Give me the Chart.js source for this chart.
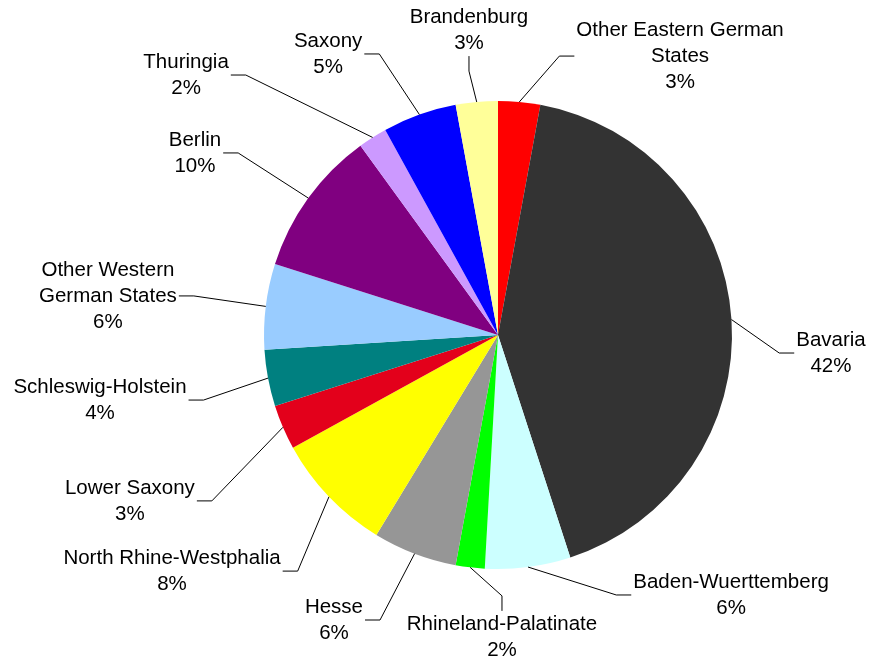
<!DOCTYPE html>
<html>
<head>
<meta charset="utf-8">
<script src="https://cdn.jsdelivr.net/npm/chart.js@4"></script>
<style>
  html, body { margin: 0; padding: 0; background: #fff; }
  #wrap { width: 873px; height: 662px; }
</style>
</head>
<body>
<div id="wrap"><canvas id="pie"></canvas></div>
<script>
// data, clockwise from 12 o'clock
var states = [
    ['Other Eastern German', 'States'], 'Bavaria', 'Baden-Wuerttemberg', 'Rhineland-Palatinate',
    'Hesse', 'North Rhine-Westphalia', 'Lower Saxony', 'Schleswig-Holstein',
    ['Other Western', 'German States'], 'Berlin', 'Thuringia', 'Saxony', 'Brandenburg'
];
var shares = [2.9, 42.1, 5.9, 2.0, 5.8, 8.3, 3.1, 3.9, 5.9, 10.1, 2.0, 5.1, 2.9];

var colors = [
    '#FF0000', '#333333', '#CCFFFF', '#00FF00', '#969696', '#FFFF00', '#E3001B',
    '#008080', '#99CCFF', '#800080', '#CC99FF', '#0000FF', '#FFFF99'
];

// where each label box sits, relative to the pie centre, in units of the radius
var labelOffsets = [
    [0.778, -1.192], [1.423, 0.077], [0.996, 1.111], [0.017, 1.29],
    [-0.701, 1.218], [-1.393, 1.009], [-1.573, 0.709], [-1.701, 0.278],
    [-1.667, -0.167], [-1.295, -0.778], [-1.333, -1.111], [-0.726, -1.201],
    [-0.124, -1.303]
];

var leaderLabels = {
    id: 'leaderLabels',
    afterDatasetsDraw: function(chart) {
        var ctx = chart.ctx;
        var meta = chart.getDatasetMeta(0);
        var data = chart.data.datasets[0].data;
        var total = data.reduce(function(a, b) { return a + b; }, 0);
        var lineH = 26, stub = 15, pad = 2;
        ctx.save();
        ctx.font = '20.5px "Liberation Sans", Arial, sans-serif';
        ctx.fillStyle = '#000';
        ctx.strokeStyle = '#000';
        ctx.lineWidth = 1;
        ctx.textAlign = 'center';
        ctx.textBaseline = 'middle';
        meta.data.forEach(function(arc, i) {
            var p = arc.getProps(['x', 'y', 'startAngle', 'endAngle', 'outerRadius'], true);
            var mid = (p.startAngle + p.endAngle) / 2;
            var sx = p.x + Math.cos(mid) * p.outerRadius;
            var sy = p.y + Math.sin(mid) * p.outerRadius;
            var name = chart.data.labels[i];
            var lines = (Array.isArray(name) ? name.slice() : [name]);
            lines.push(Math.round(data[i] / total * 100) + '%');
            var cx = p.x + labelOffsets[i][0] * p.outerRadius;
            var cy = p.y + labelOffsets[i][1] * p.outerRadius;
            var w = 0;
            lines.forEach(function(t) { w = Math.max(w, ctx.measureText(t).width); });
            var h = lines.length * lineH;
            var left = cx - w / 2 - pad, right = cx + w / 2 + pad;
            var top = cy - h / 2, bottom = cy + h / 2;
            var ex, ey, ax, ay;
            if (sx >= left && sx <= right) {
                ax = cx;
                if (sy > bottom) { ay = bottom; ey = bottom + stub; } else { ay = top; ey = top - stub; }
                ex = cx;
            } else {
                ay = cy; ey = cy;
                if (sx > right) { ax = right; ex = right + stub; } else { ax = left; ex = left - stub; }
            }
            ctx.beginPath();
            ctx.moveTo(sx, sy);
            ctx.lineTo(ex, ey);
            ctx.lineTo(ax, ay);
            ctx.stroke();
            lines.forEach(function(t, k) {
                ctx.fillText(t, cx, top + lineH * (k + 0.5));
            });
        });
        ctx.restore();
    }
};

new Chart(document.getElementById('pie'), {
    type: 'pie',
    data: {
        labels: states,
        datasets: [{
            data: shares,
            backgroundColor: colors,
            borderWidth: 0
        }]
    },
    options: {
        responsive: true,
        maintainAspectRatio: false,
        animation: false,
        layout: { padding: { left: 264, right: 141, top: 101, bottom: 93 } },
        plugins: {
            legend: { display: false },
            tooltip: { enabled: false }
        }
    },
    plugins: [leaderLabels]
});
</script>
</body>
</html>
